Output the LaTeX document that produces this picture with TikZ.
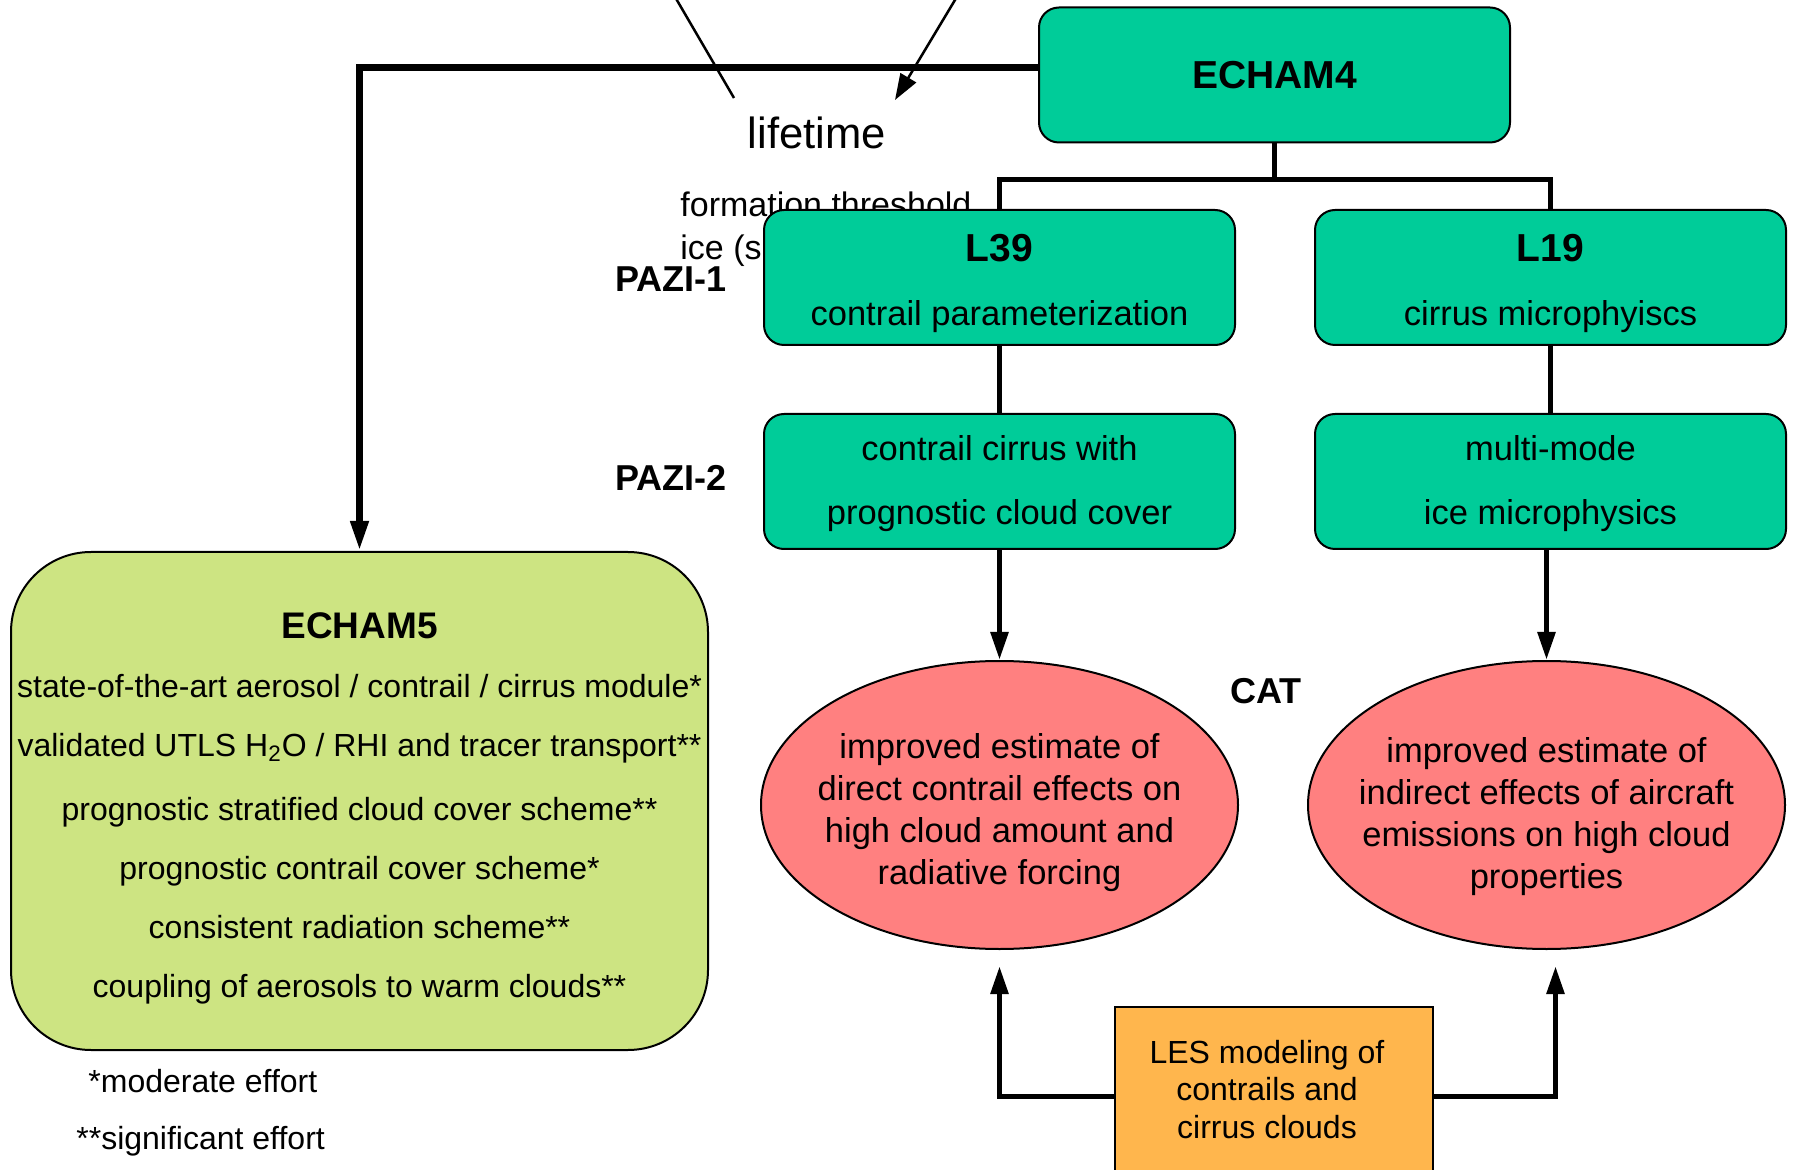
\documentclass[tikz,border=0pt]{standalone}
\usepackage{fontspec}
\setmainfont{Liberation Sans}
\usepackage{tikz}
\usetikzlibrary{positioning, arrows.meta, shapes.geometric}

\definecolor{modelgreen}{RGB}{0,204,153}
\definecolor{echamlime}{RGB}{205,228,130}
\definecolor{outcomered}{RGB}{255,128,128}
\definecolor{lesorange}{RGB}{255,182,77}

\begin{document}
\begin{tikzpicture}[
        x=0.5pt, y=-0.5pt,
        modelnode/.style={rectangle, rounded corners=10pt, draw=black, line width=1pt, fill=modelgreen, text=black, minimum width=235.5pt, minimum height=67.5pt, align=center, font=\fontsize{17.25}{32}\selectfont},
        outcomenode/.style={ellipse, draw=black, line width=1pt, fill=outcomered, minimum width=238.5pt, minimum height=144pt, inner sep=0pt},
        outcometext/.style={align=center, font=\fontsize{17.25}{21}\selectfont},
        lesnode/.style={rectangle, draw=black, line width=1pt, fill=lesorange, minimum width=159pt, inner xsep=0pt, inner ysep=15pt, font=\fontsize{16}{18.75}\selectfont},
        echamfivenode/.style={rectangle, rounded corners=40pt, draw=black, line width=1pt, fill=echamlime, minimum width=348.5pt, minimum height=249pt, inner xsep=0pt, align=center, font=\fontsize{16}{29.5}\selectfont},
        phaselabel/.style={anchor=base west, inner sep=0pt, font=\bfseries\fontsize{18}{20}\selectfont},
        plaintext/.style={anchor=base west, inner sep=0pt, font=\fontsize{17}{20}\selectfont},
        effortnote/.style={anchor=base west, inner sep=0pt, font=\fontsize{16}{18}\selectfont},
        branch/.style={line width=2.75pt},
        flowarrow/.style={line width=2.75pt, -{Triangle[width=8.5pt,length=14pt]}},
        mainarrow/.style={line width=3.5pt, -{Triangle[width=8.5pt,length=15pt]}},
        thinline/.style={line width=1.25pt},
]
        \useasboundingbox (0,0) rectangle (1794,1170);

        % notes half hidden behind the L39 box
        \node[plaintext] (formation) at (680,217) {formation threshold};
        \node[plaintext] (icenote) at (680,260) {ice (s};
        \node[anchor=base, font=\fontsize{21.8}{24}\selectfont] (lifetime) at (817,149) {lifetime};

        \node[modelnode, font=\bfseries\fontsize{19.5}{22}\selectfont] (echam4) at (1274.5,75) {ECHAM4};
        \node[modelnode] (l39) at (999.5,277.5) {\rule{0pt}{20pt}{\bfseries\fontsize{19.5}{32}\selectfont L39}\\contrail parameterization};
        \node[modelnode] (l19) [right=39pt of l39] {\rule{0pt}{20pt}{\bfseries\fontsize{19.5}{32}\selectfont L19}\\cirrus microphyiscs};
        \node[modelnode] (cirruscover) [below=33.5pt of l39] {\rule{0pt}{15pt}contrail cirrus with\\prognostic cloud cover};
        \node[modelnode] (multimode) [below=33.5pt of l19] {\rule{0pt}{15pt}multi-mode\\ice microphysics};
        \node[outcomenode] (directfx) [below=55pt of cirruscover] {};
        \node[outcomenode] (indirectfx) [below=55pt of multimode, xshift=-2pt] {};
        \node[outcometext] (directtext) [yshift=-4pt] at (directfx.center) {improved estimate of\\direct contrail effects on\\high cloud amount and\\radiative forcing};
        \node[outcometext] (indirecttext) [yshift=-6pt] at (indirectfx.center) {improved estimate of\\indirect effects of aircraft\\emissions on high cloud\\properties};
        \node[lesnode, anchor=north] (les) at (1274,1006) {\begin{tabular}{@{}c@{\hspace{7pt}}}LES modeling of\\contrails and\\cirrus clouds\end{tabular}};
        \node[echamfivenode] (echam5) at (359.5,801) {\rule{0pt}{20pt}{\bfseries\fontsize{18.5}{29.5}\selectfont ECHAM5}\\
                state-of-the-art aerosol / contrail / cirrus module*\\
                validated UTLS H\textsubscript{2}O / RHI and tracer transport**\\[2.5pt]
                prognostic stratified cloud cover scheme**\\
                prognostic contrail cover scheme*\\
                consistent radiation scheme**\\
                coupling of aerosols to warm clouds**};

        \node[phaselabel] (pazi1) at (615,292) {PAZI-1};
        \node[phaselabel] (pazi2) at (615,491) {PAZI-2};
        \node[phaselabel] (cat) at (1230,704) {CAT};
        \node[effortnote] (moderate) at (88,1092) {*moderate effort};
        \node[effortnote] (significant) at (76,1149) {**significant effort};

        \coordinate (lifeA) at (671,-10);
        \coordinate (lifeB) at (734,98);
        \coordinate (lifeC) at (961,-10);
        \coordinate (lifeD) at (895,100);

        \draw[branch] (echam4.south) -- ++(0,36) coordinate (split);
        \draw[branch] (l39.north) |- (split) -| (l19.north);
        \draw[branch] (l39.south) -- (cirruscover.north);
        \draw[branch] (l19.south) -- (multimode.north);
        \draw[flowarrow] (cirruscover.south) -- (directfx.north);
        \draw[flowarrow] (multimode.south -| indirectfx.north) -- (indirectfx.north);
        \draw[flowarrow] ([yshift=-1.5pt]les.west) -| ([yshift=-8pt]directfx.south);
        \draw[flowarrow] ([yshift=-1.5pt]les.east) -| ([xshift=4.5pt, yshift=-8pt]indirectfx.south);
        \draw[mainarrow] ([yshift=3.5pt]echam4.west) -| (echam5.north);
        \draw[thinline] (lifeA) -- (lifeB);
        \draw[thinline, -{Triangle[width=9pt,length=13pt]}] (lifeC) -- (lifeD);
\end{tikzpicture}
\end{document}
